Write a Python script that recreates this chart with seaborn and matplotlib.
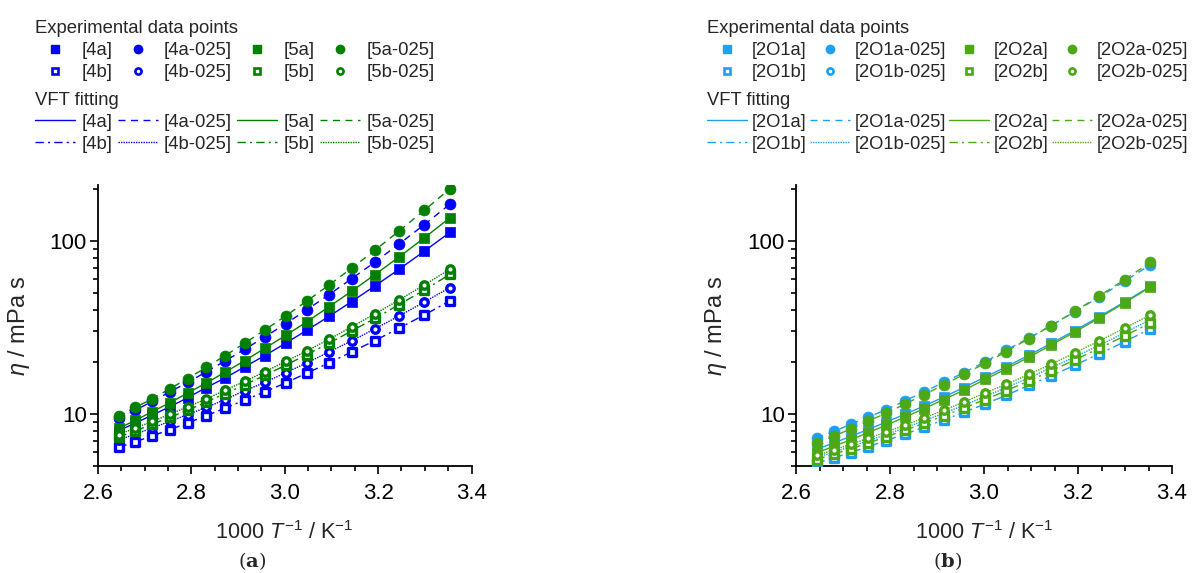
import numpy as np
import pandas as pd
import matplotlib
matplotlib.use("Agg")
import matplotlib.pyplot as plt
import seaborn as sns
from matplotlib.lines import Line2D
from matplotlib.ticker import FixedLocator, LogLocator, MultipleLocator, NullFormatter, FuncFormatter

## Data
inv_T = [2.644, 2.680, 2.716, 2.754, 2.792, 2.832, 2.872, 2.914, 2.957,
         3.002, 3.047, 3.095, 3.143, 3.193, 3.245, 3.299, 3.354]

# panel (a)
eta_4a = [8.0, 8.85, 9.84, 11.0, 12.4, 14.2, 16.1, 18.7, 21.7, 25.6, 30.4, 36.6, 44.5, 54.8, 68.5, 87.1, 112]
eta_4a025 = [9.44, 10.5, 11.8, 13.4, 15.2, 17.5, 20.2, 23.6, 27.8, 33.2, 39.9, 48.9, 60.3, 75.3, 95.9, 124, 163]
eta_5a = [8.24, 9.18, 10.3, 11.6, 13.2, 15.1, 17.4, 20.3, 23.9, 28.4, 34.0, 41.6, 51.1, 63.7, 80.7, 104, 136]
eta_5a025 = [9.66, 10.9, 12.2, 14.0, 16.0, 18.6, 21.7, 25.6, 30.5, 36.8, 44.8, 55.6, 69.3, 88.1, 114, 150, 200]
eta_4b = [6.40, 6.90, 7.46, 8.11, 8.87, 9.75, 10.8, 12.0, 13.4, 15.1, 17.2, 19.7, 22.8, 26.5, 31.3, 37.3, 45.0]
eta_4b025 = [7.06, 7.64, 8.28, 9.06, 9.91, 10.9, 12.1, 13.6, 15.2, 17.3, 19.7, 22.8, 26.4, 31.0, 36.8, 44.3, 53.7]
eta_5b = [7.35, 7.98, 8.71, 9.57, 10.5, 11.7, 13.1, 14.7, 16.7, 19.1, 22.0, 25.6, 30.1, 35.6, 42.8, 52.0, 64.0]
eta_5b025 = [7.60, 8.28, 9.04, 9.95, 11.0, 12.2, 13.7, 15.4, 17.5, 20.1, 23.1, 27.0, 31.8, 37.8, 45.5, 55.6, 68.5]

# panel (b)
eta_2O1a = [6.25, 6.79, 7.41, 8.14, 8.97, 9.97, 11.1, 12.5, 14.2, 16.3, 18.7, 21.8, 25.6, 30.3, 36.4, 44.3, 54.5]
eta_2O1a025 = [7.24, 7.93, 8.69, 9.59, 10.6, 11.9, 13.4, 15.2, 17.3, 20.0, 23.3, 27.4, 32.4, 38.9, 47.3, 58.3, 72.6]
eta_2O2a = [5.96, 6.49, 7.08, 7.80, 8.61, 9.59, 10.7, 12.1, 13.7, 15.8, 18.2, 21.2, 25.0, 29.7, 35.8, 43.8, 54.0]
eta_2O2a025 = [6.78, 7.43, 8.18, 9.10, 10.1, 11.4, 12.9, 14.7, 16.9, 19.6, 22.9, 27.2, 32.4, 39.1, 48.0, 59.6, 75.0]
eta_2O1b = [5.20, 5.57, 5.98, 6.47, 7.01, 7.64, 8.37, 9.23, 10.2, 11.4, 12.8, 14.6, 16.6, 19.1, 22.2, 26.1, 31.0]
eta_2O1b025 = [5.60, 6.01, 6.47, 7.00, 7.60, 8.32, 9.12, 10.1, 11.2, 12.6, 14.2, 16.1, 18.5, 21.3, 24.9, 29.4, 35.0]
eta_2O2b = [5.45, 5.85, 6.28, 6.79, 7.38, 8.05, 8.83, 9.75, 10.8, 12.1, 13.6, 15.5, 17.7, 20.5, 23.9, 28.2, 33.5]
eta_2O2b025 = [5.75, 6.18, 6.67, 7.23, 7.87, 8.61, 9.46, 10.5, 11.7, 13.2, 14.8, 16.9, 19.4, 22.5, 26.4, 31.3, 37.3]

## Style
sns.set_style("ticks")
plt.rcParams["font.family"] = ["Liberation Sans", "DejaVu Sans"]
plt.rcParams["mathtext.fontset"] = "custom"
plt.rcParams["mathtext.rm"] = "Liberation Sans"
plt.rcParams["mathtext.it"] = "Liberation Sans:italic"
plt.rcParams["mathtext.bf"] = "DejaVu Serif:bold"

blue, green1 = "#0000FF", "#008000"
cyan, green2 = "#1EA0F0", "#4CA815"

dash = (0, (5, 4))
dashdot = (0, (6, 3, 1.5, 3))
dot = (0, (1, 0.8))

# (label, values, color, marker, filled, linestyle)
series_a = [
    ("[4a]", eta_4a, blue, "s", True, "-"),
    ("[4b]", eta_4b, blue, "s", False, dashdot),
    ("[4a-025]", eta_4a025, blue, "o", True, dash),
    ("[4b-025]", eta_4b025, blue, "o", False, dot),
    ("[5a]", eta_5a, green1, "s", True, "-"),
    ("[5b]", eta_5b, green1, "s", False, dashdot),
    ("[5a-025]", eta_5a025, green1, "o", True, dash),
    ("[5b-025]", eta_5b025, green1, "o", False, dot),
]
series_b = [
    ("[2O1a]", eta_2O1a, cyan, "s", True, "-"),
    ("[2O1b]", eta_2O1b, cyan, "s", False, dashdot),
    ("[2O1a-025]", eta_2O1a025, cyan, "o", True, dash),
    ("[2O1b-025]", eta_2O1b025, cyan, "o", False, dot),
    ("[2O2a]", eta_2O2a, green2, "s", True, "-"),
    ("[2O2b]", eta_2O2b, green2, "s", False, dashdot),
    ("[2O2a-025]", eta_2O2a025, green2, "o", True, dash),
    ("[2O2b-025]", eta_2O2b025, green2, "o", False, dot),
]

fig = plt.figure(figsize=(11.98, 5.73), dpi=100)
ax_a = fig.add_axes([98 / 1198, 1 - 466 / 573, 373.5 / 1198, 281 / 573])
ax_b = fig.add_axes([796 / 1198, 1 - 466 / 573, 376 / 1198, 281 / 573])


def draw_panel(ax, series):
    for name, vals, col, mk, filled, ls in series:
        sns.lineplot(x=inv_T, y=vals, ax=ax, color=col, linestyle=ls, linewidth=1.0)
    for name, vals, col, mk, filled, ls in series:
        if filled:
            sz = 50 if mk == "s" else 62
            sns.scatterplot(x=inv_T, y=vals, ax=ax, marker=mk, s=sz, color=col,
                            edgecolor=col, linewidth=0.5, zorder=3)
        else:
            sns.scatterplot(x=inv_T, y=vals, ax=ax, marker=mk, s=29, color="white",
                            edgecolor=col, linewidth=2.4, zorder=3)
    ax.set_yscale("log")
    ax.set_xlim(2.6, 3.4)
    ax.set_ylim(5, 210)
    ax.xaxis.set_major_locator(MultipleLocator(0.2))
    ax.xaxis.set_minor_locator(MultipleLocator(0.05))
    ax.xaxis.set_major_formatter(FuncFormatter(lambda v, p: f"{v:.1f}"))
    ax.yaxis.set_major_locator(FixedLocator([10, 100]))
    ax.yaxis.set_major_formatter(FuncFormatter(lambda v, p: f"{v:.0f}"))
    ax.yaxis.set_minor_locator(LogLocator(base=10, subs=np.arange(2, 10)))
    ax.yaxis.set_minor_formatter(NullFormatter())
    sns.despine(ax=ax)
    for sp in ("left", "bottom"):
        ax.spines[sp].set_linewidth(1.3)
        ax.spines[sp].set_color("black")
    ax.tick_params(which="major", direction="out", length=6, width=1.2, colors="black",
                   labelsize=16)
    ax.tick_params(axis="x", which="major", pad=6)
    ax.tick_params(axis="y", which="major", pad=2)
    ax.tick_params(which="minor", direction="out", length=3.6, width=1.2, colors="black")
    ax.set_xlabel(r"1000 $T^{-1}$ / K$^{-1}$", fontsize=15.7)
    ax.xaxis.set_label_coords(0.5, -0.195)
    ax.set_ylabel(r"$\eta$ / mPa s", fontsize=17)
    ax.yaxis.set_label_coords(-0.177, 0.5)


def add_legends(series, x0, fs, textpad, colspace):
    mk_handles, ln_handles, labels = [], [], []
    for name, vals, col, mk, filled, ls in series:
        if filled:
            h = Line2D([], [], ls="none", marker=mk, markersize=6, color=col, mec=col)
        else:
            h = Line2D([], [], ls="none", marker=mk, markersize=4.4, mfc="white", mec=col, mew=1.9)
        mk_handles.append(h)
        ln_handles.append(Line2D([], [], color=col, linestyle=ls, linewidth=1.0))
        labels.append(name)
    em = fs * 100 / 72
    common = dict(loc="upper left", ncol=4, frameon=False, fontsize=fs, title_fontsize=fs,
                  handlelength=40 / em, handletextpad=textpad / em, columnspacing=colspace / em,
                  labelspacing=0.27, borderpad=0, borderaxespad=0, alignment="left")
    fig.legend(mk_handles, labels, title="Experimental data points",
               bbox_to_anchor=(x0, 0.965), **common)
    fig.legend(ln_handles, labels, title="VFT fitting",
               bbox_to_anchor=(x0, 0.840), **common)


draw_panel(ax_a, series_a)
draw_panel(ax_b, series_b)
add_legends(series_a, 35 / 1198, 13.3, 6.5, 5)
add_legends(series_b, 707 / 1198, 13.2, 4.5, 3.5)

fig.text(252 / 1198, 1 - 561 / 573, r"($\mathbf{a}$)", ha="center", va="center",
         family="DejaVu Serif", fontsize=14)
fig.text(948 / 1198, 1 - 561 / 573, r"($\mathbf{b}$)", ha="center", va="center",
         family="DejaVu Serif", fontsize=14)

fig.savefig("out.png", dpi=100)
